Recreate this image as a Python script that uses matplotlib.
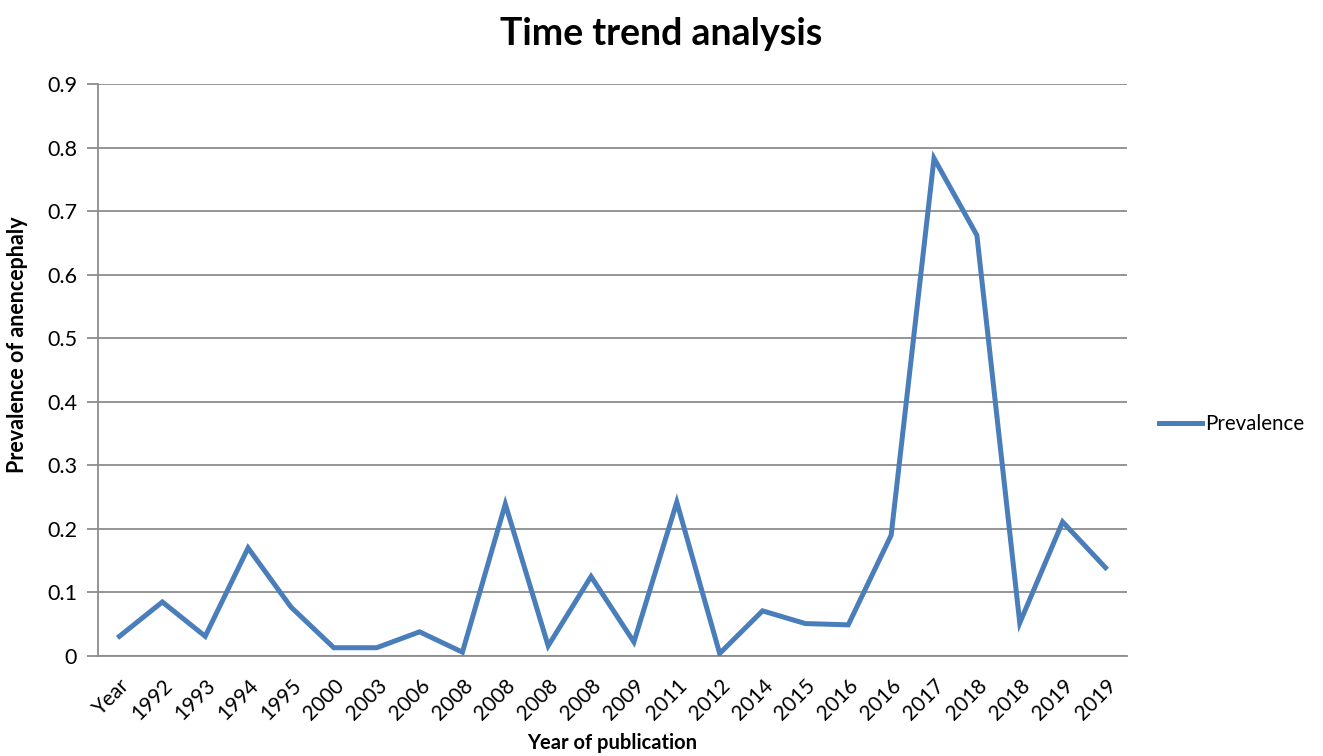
import matplotlib
matplotlib.use("Agg")
import matplotlib.pyplot as plt

categories = ["Year", "1992", "1993", "1994", "1995", "2000", "2003", "2006",
              "2008", "2008", "2008", "2008", "2009", "2011", "2012", "2014",
              "2015", "2016", "2016", "2017", "2018", "2018", "2019", "2019"]
prevalence = [0.031, 0.085, 0.031, 0.170, 0.077, 0.013, 0.013, 0.038,
              0.006, 0.239, 0.016, 0.125, 0.022, 0.242, 0.004, 0.071,
              0.051, 0.049, 0.190, 0.783, 0.662, 0.052, 0.211, 0.139]
yticks = [0, 0.1, 0.2, 0.3, 0.4, 0.5, 0.6, 0.7, 0.8, 0.9]
ytick_labels = ["0", "0.1", "0.2", "0.3", "0.4", "0.5", "0.6", "0.7", "0.8", "0.9"]

plt.rcParams['font.family'] = ['Lato', 'DejaVu Sans']

fig = plt.figure(figsize=(13.23, 7.56), dpi=100)
ax = fig.add_axes([0.0741, 0.1323, 0.7777, 0.7566])

x = list(range(len(categories)))
line, = ax.plot(x, prevalence, color="#4A7EBB", linewidth=3.6,
                solid_joinstyle="miter", label="Prevalence", zorder=3)

ax.set_xlim(-0.5, len(categories) - 0.5)
ax.set_ylim(0, 0.9)
ax.set_yticks(yticks)
ax.set_yticklabels(ytick_labels, fontsize=15.5)
ax.set_xticks(x)
ax.set_xticklabels(categories, rotation=45, ha="right", rotation_mode="anchor",
                   fontsize=15)

gridc = "#8C8C8C"
ax.yaxis.grid(True, color=gridc, linewidth=1.3)
ax.set_axisbelow(True)
for s in ["top", "right"]:
    ax.spines[s].set_visible(False)
ax.spines["left"].set_color(gridc)
ax.spines["left"].set_linewidth(1.3)
ax.spines["bottom"].set_color(gridc)
ax.spines["bottom"].set_linewidth(1.3)
ax.tick_params(axis="y", length=8, width=1.3, color=gridc, pad=7)
ax.tick_params(axis="x", length=0, pad=14)

ax.set_xlabel("Year of publication", fontsize=14.5, fontweight="bold")
ax.xaxis.set_label_coords(0.5, -0.134)
ax.set_ylabel("Prevalence of anencephaly", fontsize=15.5, fontweight="bold")
ax.yaxis.set_label_coords(-0.068, 0.545)

fig.suptitle("Time trend analysis", fontsize=27, fontweight="bold", x=0.5, y=0.977)

leg = fig.legend(handles=[line], loc="center left", bbox_to_anchor=(0.862, 0.439),
                 frameon=False, fontsize=14.8, handlelength=2.1, handletextpad=0.15)

fig.savefig("out.png", dpi=100)
